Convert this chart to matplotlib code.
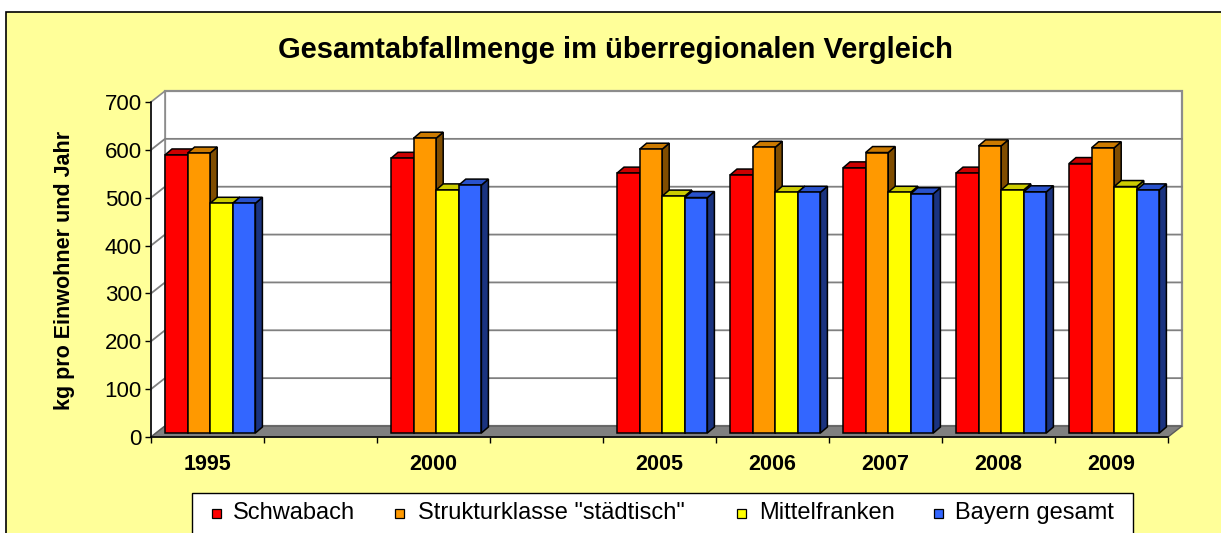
import numpy as np
import matplotlib
matplotlib.use("Agg")
import matplotlib.pyplot as plt
from matplotlib.patches import Polygon, Rectangle

plt.rcParams['font.family'] = ['Liberation Sans', 'DejaVu Sans']

# ---------------- data ----------------
categories = ["1995", "", "2000", "", "2005", "2006", "2007", "2008", "2009"]
series_names = ["Schwabach", 'Strukturklasse "städtisch"', "Mittelfranken", "Bayern gesamt"]
schwabach = [581, np.nan, 574, np.nan, 543, 539, 554, 543, 563]
strukturklasse = [585, np.nan, 616, np.nan, 593, 597, 586, 600, 596]
mittelfranken = [480, np.nan, 508, np.nan, 495, 503, 503, 508, 515]
bayern = [480, np.nan, 518, np.nan, 492, 503, 500, 504, 508]
y_ticks = [0, 100, 200, 300, 400, 500, 600, 700]

series = [schwabach, strukturklasse, mittelfranken, bayern]
front_cols = ["#FF0000", "#FF9900", "#FFFF00", "#3366FF"]
top_cols = ["#CC0000", "#CC7A00", "#CCCC00", "#2952CC"]
side_cols = ["#800000", "#804D00", "#808000", "#1A3380"]

W, H = 1221, 533
fig = plt.figure(figsize=(W / 100, H / 100), dpi=100)
fig.patch.set_facecolor("white")

def fx(p):
    return p / W

def fy(p):
    return 1 - p / H

# chart background with border (extends beyond right/bottom)
fig.patches.append(Rectangle((fx(5.5), fy(560)), fx(1300), 560 / H - 11.5 / H,
                             transform=fig.transFigure, facecolor="#FFFF99",
                             edgecolor="black", linewidth=1.2, zorder=-5))

# front plane axes
ax_l, ax_r, ax_t, ax_b = 151, 1168, 102, 437
ax = fig.add_axes([fx(ax_l), fy(ax_b), (ax_r - ax_l) / W, (ax_b - ax_t) / H])
ax.set_zorder(1)
ax.set_facecolor("none")
n = len(categories)
ax.set_xlim(0, n)
ax.set_ylim(0, 700)
XPX = (ax_r - ax_l) / n
YPX = (ax_b - ax_t) / 700.0

def px_x(p):
    return p / XPX

def px_y(p):
    return p / YPX

WDX, WDY = px_x(14), px_y(11)
wall_kw = dict(clip_on=False)

# back wall
ax.add_patch(Polygon([(WDX, WDY), (n + WDX, WDY), (n + WDX, 700 + WDY), (WDX, 700 + WDY)],
                     closed=True, facecolor="white", edgecolor="#8C8C8C", linewidth=1.6,
                     zorder=1, **wall_kw))
# side wall
ax.add_patch(Polygon([(0, 0), (WDX, WDY), (WDX, 700 + WDY), (0, 700)], closed=True,
                     facecolor="white", edgecolor="#8C8C8C", linewidth=1.2, zorder=1, **wall_kw))
# gridlines
for v in y_ticks[1:-1]:
    ax.plot([0, WDX, n + WDX], [v, v + WDY, v + WDY], color="#808080", lw=1.3,
            zorder=2, clip_on=False)
# floor
ax.add_patch(Polygon([(0, 0), (n, 0), (n + WDX, WDY), (WDX, WDY)], closed=True,
                     facecolor="#808080", edgecolor="#5A5A5A", linewidth=1.0, zorder=2, **wall_kw))

# bars
bw = px_x(22.6)
x_off = px_x(14)
base = px_y(4)
BDX, BDY = px_x(7), px_y(6)
z = 5
for i in range(n):
    for j, s in enumerate(series):
        v = s[i]
        if np.isnan(v):
            continue
        x0 = i + x_off + j * bw
        top = base + v
        ax.add_patch(Polygon([(x0 + bw, base), (x0 + bw + BDX, base + BDY),
                              (x0 + bw + BDX, top + BDY), (x0 + bw, top)], closed=True,
                             facecolor=side_cols[j], edgecolor="black", linewidth=1.1,
                             zorder=z, clip_on=False))
        ax.add_patch(Polygon([(x0, top), (x0 + bw, top), (x0 + bw + BDX, top + BDY),
                              (x0 + BDX, top + BDY)], closed=True,
                             facecolor=top_cols[j], edgecolor="black", linewidth=1.1,
                             zorder=z, clip_on=False))
        ax.bar(x0, v, width=bw, bottom=base, align="edge", color=front_cols[j],
               edgecolor="black", linewidth=1.1, zorder=z + 0.5, clip_on=False)
        z += 1

# axes styling
for sp in ["top", "right"]:
    ax.spines[sp].set_visible(False)
ax.spines["left"].set_color("black")
ax.spines["bottom"].set_color("black")
ax.spines["left"].set_linewidth(1.1)
ax.spines["bottom"].set_linewidth(1.1)
ax.spines["left"].set_zorder(50)
ax.spines["bottom"].set_zorder(50)
ax.set_yticks(y_ticks)
ax.set_yticklabels([str(t) for t in y_ticks], fontsize=16)
ax.tick_params(axis="y", direction="out", length=4.5, width=1.0, pad=2)
ax.set_xticks(np.arange(0, n + 1))
ax.set_xticklabels([])
ax.tick_params(axis="x", which="major", direction="out", length=4, width=1.0)
ax.set_xticks(np.arange(n) + 0.5, minor=True)
ax.set_xticklabels(categories, minor=True, fontsize=15.5, fontweight="bold")
ax.tick_params(axis="x", which="minor", length=0, pad=12)

# title & y label
fig.text(fx(615), fy(50), "Gesamtabfallmenge im überregionalen Vergleich",
         ha="center", va="center", fontsize=21, fontweight="bold")
fig.text(fx(65), fy(270), "kg pro Einwohner und Jahr", rotation=90,
         ha="center", va="center", fontsize=15.5, fontweight="bold")

# legend (manual, box extends past bottom)
fig.patches.append(Rectangle((fx(192), fy(560)), (1133 - 192) / W, (560 - 493) / H,
                             transform=fig.transFigure, facecolor="white",
                             edgecolor="black", linewidth=1.0, zorder=3))
mk_x = [212, 395, 737, 934]
tx_x = [233, 418, 759, 955]
for j in range(4):
    fig.patches.append(Rectangle((fx(mk_x[j]), fy(518)), 9 / W, 9 / H,
                                 transform=fig.transFigure, facecolor=front_cols[j],
                                 edgecolor="black", linewidth=0.9, zorder=4))
    fig.text(fx(tx_x[j]), fy(513), series_names[j], ha="left", va="center",
             fontsize=17, zorder=5)

fig.savefig("out.png", dpi=100)
